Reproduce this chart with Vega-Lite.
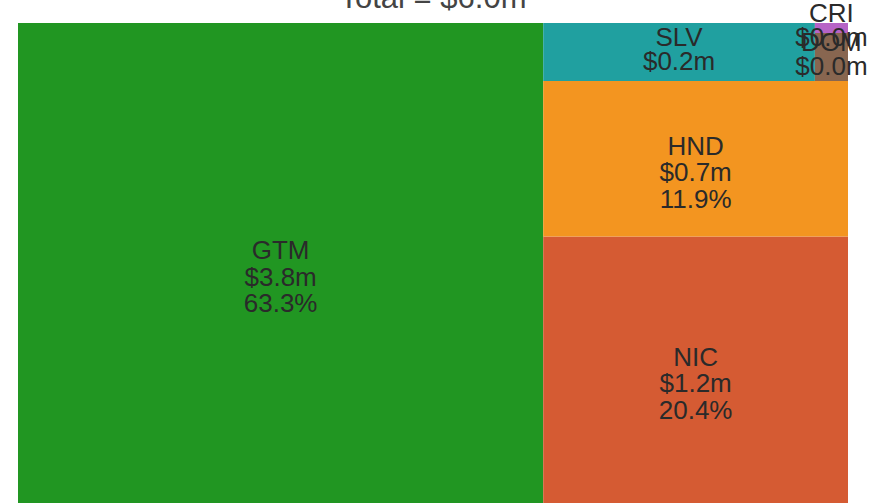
{
  "$schema": "https://vega.github.io/schema/vega-lite/v6.json",
  "width": 830,
  "height": 480,
  "autosize": {"type": "none"},
  "padding": {"left": 18, "top": 23, "right": 42, "bottom": 0},
  "background": "white",
  "config": {"view": {"stroke": null}},
  "data": {
    "values": [
      {"country": "GTM", "value": 3.800, "c": 1, "s": 1, "b": 1},
      {"country": "NIC", "value": 1.224, "c": 2, "s": 1, "b": 1},
      {"country": "HND", "value": 0.714, "c": 2, "s": 2, "b": 1},
      {"country": "SLV", "value": 0.238, "c": 2, "s": 3, "b": 1},
      {"country": "DOM", "value": 0.024, "c": 2, "s": 3, "b": 2},
      {"country": "CRI", "value": 0.005, "c": 2, "s": 3, "b": 2}
    ]
  },
  "transform": [
    {"joinaggregate": [{"op": "sum", "field": "value", "as": "total"}]},
    {"stack": "value", "groupby": [], "offset": "normalize", "as": ["c_s", "c_e"],
     "sort": [{"field": "c"}, {"field": "s"}, {"field": "b"}, {"field": "value", "order": "descending"}]},
    {"joinaggregate": [{"op": "min", "field": "c_s", "as": "cx0"}, {"op": "max", "field": "c_e", "as": "cx1"}], "groupby": ["c"]},
    {"stack": "value", "groupby": ["c"], "offset": "normalize", "as": ["s_s", "s_e"],
     "sort": [{"field": "s"}, {"field": "b"}, {"field": "value", "order": "descending"}]},
    {"joinaggregate": [{"op": "min", "field": "s_s", "as": "sy0"}, {"op": "max", "field": "s_e", "as": "sy1"}], "groupby": ["c", "s"]},
    {"stack": "value", "groupby": ["c", "s"], "offset": "normalize", "as": ["b_s", "b_e"],
     "sort": [{"field": "b"}, {"field": "value", "order": "descending"}]},
    {"joinaggregate": [{"op": "min", "field": "b_s", "as": "bx0"}, {"op": "max", "field": "b_e", "as": "bx1"}], "groupby": ["c", "s", "b"]},
    {"stack": "value", "groupby": ["c", "s", "b"], "offset": "normalize", "as": ["i_s", "i_e"],
     "sort": [{"field": "value", "order": "descending"}]},
    {"calculate": "datum.cx0 + (datum.cx1 - datum.cx0) * datum.bx0", "as": "x0"},
    {"calculate": "datum.cx0 + (datum.cx1 - datum.cx0) * datum.bx1", "as": "x1"},
    {"calculate": "datum.sy0 + (datum.sy1 - datum.sy0) * datum.i_s", "as": "y0"},
    {"calculate": "datum.sy0 + (datum.sy1 - datum.sy0) * datum.i_e", "as": "y1"},
    {"calculate": "(datum.x0 + datum.x1) / 2", "as": "xm"},
    {"calculate": "(datum.y0 + datum.y1) / 2", "as": "ym"},
    {"calculate": "datum.value / datum.total", "as": "share"},
    {"calculate": "datum.share >= 0.05 ? [datum.country, '$' + format(datum.value, '.1f') + 'm', format(datum.share, '.1%')] : [datum.country, '$' + format(datum.value, '.1f') + 'm']", "as": "lines"}
  ],
  "layer": [
    {
      "mark": {"type": "rect", "strokeWidth": 0},
      "encoding": {
        "x": {"field": "x0", "type": "quantitative", "scale": {"domain": [0, 1], "nice": false, "zero": false}, "axis": null},
        "x2": {"field": "x1"},
        "y": {"field": "y0", "type": "quantitative", "scale": {"domain": [0, 1], "nice": false, "zero": false}, "axis": null},
        "y2": {"field": "y1"},
        "color": {
          "field": "country", "type": "nominal", "legend": null,
          "scale": {
            "domain": ["GTM", "NIC", "HND", "SLV", "DOM", "CRI"],
            "range": ["#219622", "#D55B33", "#F39520", "#20A0A0", "#886650", "#B663C6"]
          }
        },
        "tooltip": [{"field": "country"}, {"field": "value", "format": ".3f"}]
      }
    },
    {
      "transform": [{"filter": "datum.share >= 0.05"}],
      "mark": {"type": "text", "font": "Liberation Sans", "fontSize": 26, "lineHeight": 26.5, "color": "#2a2a2a", "align": "center", "baseline": "middle", "dy": -12},
      "encoding": {
        "x": {"field": "xm", "type": "quantitative"},
        "y": {"field": "ym", "type": "quantitative"},
        "text": {"field": "lines"}
      }
    },
    {
      "transform": [{"filter": "datum.share < 0.05"}],
      "mark": {"type": "text", "font": "Liberation Sans", "fontSize": 26, "lineHeight": 24, "color": "#2a2a2a", "align": "center", "baseline": "middle", "dy": -14},
      "encoding": {
        "x": {"field": "xm", "type": "quantitative"},
        "y": {"field": "ym", "type": "quantitative"},
        "text": {"field": "lines"}
      }
    },
    {
      "transform": [
        {"aggregate": [{"op": "max", "field": "total", "as": "grand"}]},
        {"calculate": "'Total = $' + format(datum.grand, '.1f') + 'm'", "as": "title"}
      ],
      "mark": {"type": "text", "font": "Liberation Sans", "fontSize": 31, "color": "#444444", "align": "center", "baseline": "alphabetic"},
      "encoding": {
        "x": {"datum": 0.5, "type": "quantitative"},
        "y": {"datum": 1.03125, "type": "quantitative"},
        "text": {"field": "title"}
      }
    }
  ]
}
